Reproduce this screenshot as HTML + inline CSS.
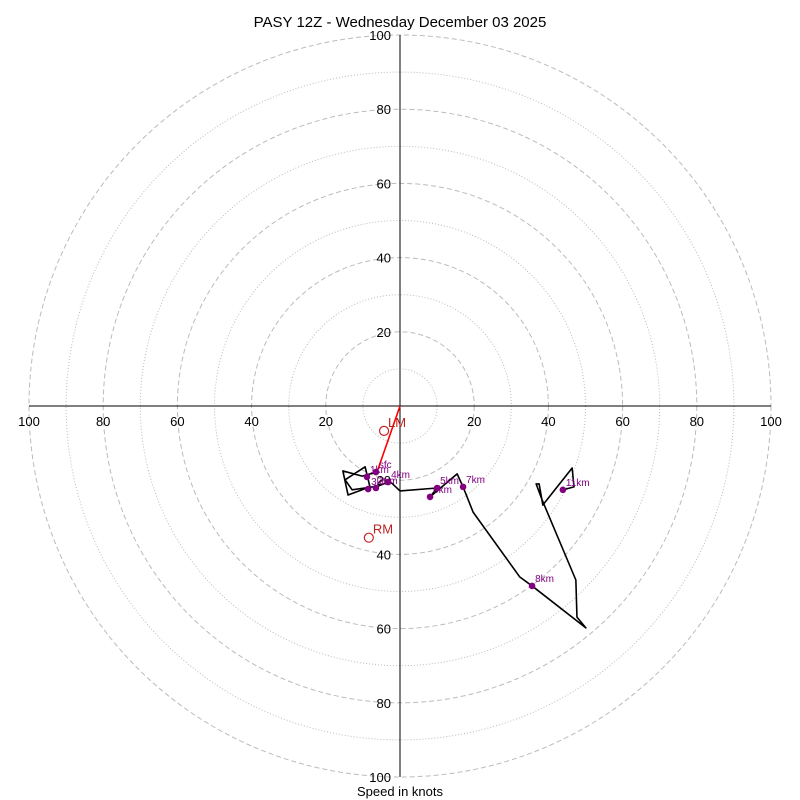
<!DOCTYPE html>
<html><head><meta charset="utf-8"><style>
body{margin:0;background:#fff}
svg{display:block;font-family:"Liberation Sans","DejaVu Sans",sans-serif}
</style></head><body>
<svg id="c" width="800" height="800" viewBox="0 0 800 800">
<text x="400" y="27" text-anchor="middle" font-size="15">PASY 12Z - Wednesday December 03 2025</text>
<text x="400" y="796" text-anchor="middle" font-size="13">Speed in knots</text>
<g id="grid"></g><g id="axes"></g><g id="plot"></g>
</svg>
<script>
const ringValues=[10,20,30,40,50,60,70,80,90,100];
const tickValues=[20,40,60,80,100];
const pathU=[-6.2,-10.2,-15.4,-14.0,-8.1,-9.4,-14.8,-12.9,-5.9,-3.2,-2.2,0,10.0,8.1,15.4,17.0,19.7,32.3,35.6,50.1,47.7,47.4,38.3,36.7,37.5,38.5,46.4,46.9,43.9];
const pathV=[-17.8,-18.9,-17.5,-24.0,-21.8,-16.4,-19.9,-22.6,-21.6,-20.5,-20.8,-22.9,-22.1,-24.5,-18.3,-21.8,-28.6,-46.1,-48.5,-59.8,-56.9,-46.9,-25.3,-21.0,-21.0,-26.7,-16.7,-21.8,-22.6];
const markLabels=["sfc","1km","2km","3km","4km","5km","6km","7km","8km","11km"];
const markU=[-6.5,-8.9,-6.5,-8.6,-3.2,10.0,8.1,17.0,35.6,43.9];
const markV=[-17.8,-19.1,-22.1,-22.4,-20.5,-22.1,-24.5,-21.8,-48.5,-22.6];
const motionLabels=["LM","RM"];
const motionU=[-4.3,-8.4];
const motionV=[-6.7,-35.5];
const meanU=[0,-6.2];
const meanV=[0,-17.8];
const cx=400,cy=406,k=3.71;
const X=u=>cx+u*k, Y=v=>cy-v*k;
const NS="http://www.w3.org/2000/svg";
function mk(t,a,p){const e=document.createElementNS(NS,t);for(const n in a)e.setAttribute(n,a[n]);p.appendChild(e);return e;}
const grid=document.getElementById('grid'),axes=document.getElementById('axes'),plot=document.getElementById('plot');
ringValues.forEach(r=>{
  const c=mk('circle',{cx:cx,cy:cy,r:r*k,fill:'none',stroke:'#bbb','stroke-width':1,'stroke-dasharray':r%20==0?'5,3':'1,2'},grid);
  
  
});
let l=mk('line',{x1:X(-100),y1:cy,x2:X(100),y2:cy,stroke:'#000'},axes);


l=mk('line',{x1:cx,y1:Y(100),x2:cx,y2:Y(-100),stroke:'#000'},axes);


tickValues.forEach(t=>{
  [-1,1].forEach(s=>{
    let tx=mk('text',{x:X(s*t),y:cy+20,'text-anchor':'middle','font-size':13},axes);tx.textContent=t;
    
    
    let ty=mk('text',{x:cx-9,y:Y(s*t)+5,'text-anchor':'end','font-size':13,fill:'#000'},axes);ty.textContent=t;
    
    
  });
});
let pts=pathU.map((u,i)=>X(u)+','+Y(pathV[i])).join(' ');
let pl=mk('polyline',{points:pts,fill:'none',stroke:'#000','stroke-width':1.6,'stroke-linejoin':'round'},plot);


let ml=mk('line',{x1:X(meanU[0]),y1:Y(meanV[0]),x2:X(meanU[1]),y2:Y(meanV[1]),stroke:'red','stroke-width':1.6},plot);


markLabels.forEach((lab,i)=>{
  let d=mk('circle',{cx:X(markU[i]),cy:Y(markV[i]),r:3.3,fill:'purple'},plot);
  
  
  let t=mk('text',{x:X(markU[i])+3,y:Y(markV[i])-4,'font-size':10,fill:'purple'},plot);t.textContent=lab;
  
  
});
motionLabels.forEach((lab,i)=>{
  let c=mk('circle',{cx:X(motionU[i]),cy:Y(motionV[i]),r:4.5,fill:'none',stroke:'#c22','stroke-width':1.2},plot);
  
  
  let t=mk('text',{x:X(motionU[i])+4,y:Y(motionV[i])-4,'font-size':13,fill:'#b22'},plot);t.textContent=lab;
  
  
});
</script>
</body></html>
